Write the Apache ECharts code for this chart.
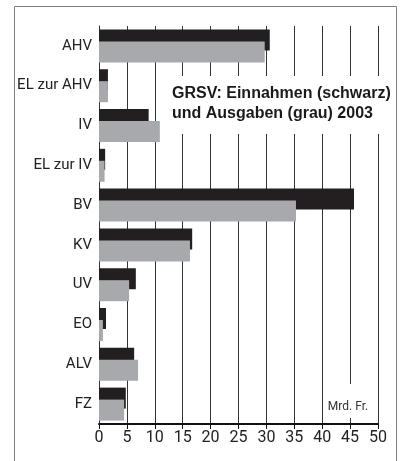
<!DOCTYPE html>
<html>
<head>
<meta charset="utf-8">
<script src="https://cdn.jsdelivr.net/npm/echarts@6/dist/echarts.min.js"></script>
<style>
  html, body { margin: 0; padding: 0; background: #fff; }
  #chart { width: 403px; height: 461px; }
</style>
</head>
<body>
<div id="chart"></div>
<script>
// Sozialversicherungen 2003, Mrd. Fr.
var categories = ['AHV', 'EL zur AHV', 'IV', 'EL zur IV', 'BV', 'KV', 'UV', 'EO', 'ALV', 'FZ'];
var einnahmen = [30.6, 1.6, 8.9, 1.1, 45.7, 16.7, 6.6, 1.25, 6.3, 4.8];
var ausgaben = [29.7, 1.6, 10.9, 1.0, 35.3, 16.3, 5.4, 0.7, 7.0, 4.5];

var chart = echarts.init(document.getElementById('chart'));

chart.setOption({
    animation: false,
    backgroundColor: '#fff',
    title: {
        text: 'GRSV: Einnahmen (schwarz)\nund Ausgaben (grau) 2003',
        left: 165,
        top: 76,
        padding: [8, 4, 10, 7],
        backgroundColor: '#fff',
        textStyle: {
            fontFamily: 'Liberation Sans',
            fontWeight: 'bold',
            fontSize: 16,
            lineHeight: 20,
            color: '#1a1a1a'
        }
    },
    grid: { left: 99, right: 25, top: 26, bottom: 37 },
    xAxis: {
        type: 'value',
        min: 0,
        max: 50,
        interval: 5,
        axisLine: { show: true, lineStyle: { color: '#111', width: 2 } },
        axisTick: { show: true, length: 5, lineStyle: { color: '#111' } },
        axisLabel: { color: '#222', fontSize: 16, fontFamily: 'Roboto', margin: 6 },
        splitLine: { show: true, lineStyle: { color: '#333', width: 1 } }
    },
    yAxis: {
        type: 'category',
        inverse: true,
        data: categories,
        axisLine: { show: true, lineStyle: { color: '#333', width: 1 } },
        axisTick: { show: false },
        axisLabel: { color: '#222', fontSize: 15, fontFamily: 'Roboto', margin: 7 }
    },
    series: [
        {
            name: 'Einnahmen',
            type: 'bar',
            data: einnahmen,
            barWidth: 21,
            barGap: '-43%',
            itemStyle: { color: '#231f20' }
        },
        {
            name: 'Ausgaben',
            type: 'bar',
            data: ausgaben,
            barWidth: 21,
            barGap: '-43%',
            itemStyle: { color: '#a7a9ac' }
        }
    ],
    graphic: [
        {
            type: 'rect',
            z: 100,
            shape: { x: 14.5, y: 6.5, width: 382, height: 470 },
            style: { fill: 'none', stroke: '#808080', lineWidth: 1 }
        },
        {
            type: 'rect',
            z: 100,
            shape: { x: 331, y: 384, width: 34, height: 34 },
            style: { fill: '#fff' }
        },
        {
            type: 'text',
            z: 101,
            x: 348,
            y: 407,
            style: {
                text: 'Mrd. Fr.',
                fill: '#333',
                font: '12px Roboto',
                align: 'center',
                verticalAlign: 'middle'
            }
        }
    ]
});
</script>
</body>
</html>
